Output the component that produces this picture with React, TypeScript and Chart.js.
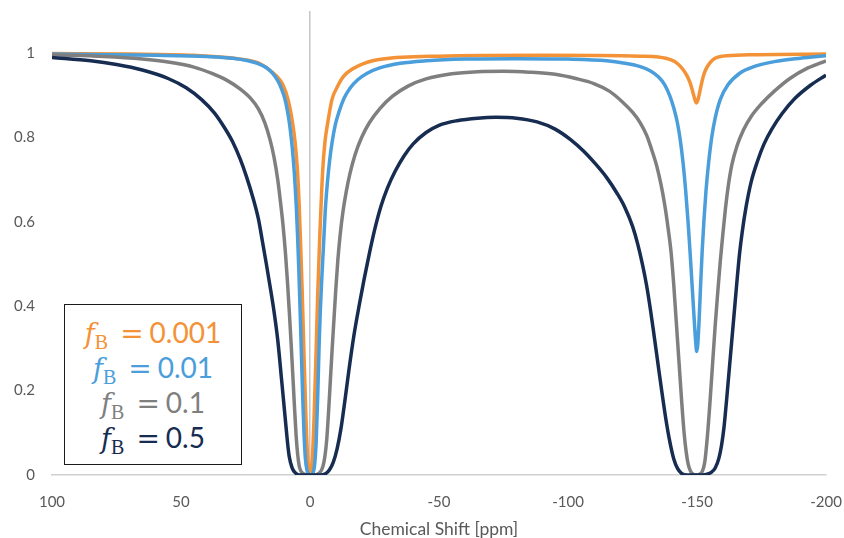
import React, { useEffect, useRef } from 'react';
import { Chart, registerables } from 'chart.js';

Chart.register(...registerables);

// ---- Data ----
const xTickValues = [100, 50, 0, -50, -100, -150, -200];
const yTickValues = [0, 0.2, 0.4, 0.6, 0.8, 1];

const seriesNames = ['0.001', '0.01', '0.1', '0.5'];
const seriesColors = ['#F39237', '#4A9EDB', '#7F7F7F', '#172C51'];

const orangeX = [100, 70, 45, 28, 20, 16.5, 13, 10.5, 8.5, 6.8, 5.8, 4.9, 4.2, 3.6, 3.0, 2.3, 1.6, 1.0, 0.5, 0, -0.5, -1, -1.6, -2.3, -3, -3.7, -4.9, -5.8, -6.9, -8.5, -10.4, -13, -16.6, -21, -28.2, -50, -90, -128, -135, -140, -142.5, -144.5, -146, -147.3, -148.3, -149.2, -149.8, -150.4, -151.3, -152.3, -153.3, -155, -157, -160, -170, -200];
const orangeY = [0.999, 0.998, 0.995, 0.987, 0.977, 0.964, 0.946, 0.925, 0.89, 0.837, 0.79, 0.725, 0.64, 0.54, 0.43, 0.28, 0.14, 0.05, 0.012, 0, 0.012, 0.05, 0.14, 0.28, 0.43, 0.55, 0.72, 0.79, 0.836, 0.89, 0.918, 0.945, 0.963, 0.976, 0.986, 0.993, 0.995, 0.993, 0.991, 0.984, 0.975, 0.962, 0.948, 0.93, 0.91, 0.89, 0.882, 0.89, 0.915, 0.942, 0.96, 0.977, 0.988, 0.993, 0.996, 0.998];

const blueX = [100, 60, 40, 30, 24, 20, 17, 14.5, 12.5, 11, 9.8, 8.8, 8, 7.2, 6.5, 5.9, 5.3, 4.8, 4.3, 3.8, 3.3, 2.8, 2.3, 1.8, 1.2, 0.5, -0.5, -1.2, -1.8, -2.4, -3, -3.5, -4, -4.6, -5.2, -5.9, -6.7, -7.6, -8.6, -9.8, -11.3, -13.2, -15.5, -18.5, -22, -27, -35, -45, -60, -80, -100, -115, -122, -128, -132, -135, -137.5, -139.5, -141, -142.3, -143.5, -144.6, -145.6, -146.6, -147.5, -148.3, -149, -149.5, -149.9, -150.3, -150.8, -151.4, -152, -152.7, -153.5, -154.5, -155.7, -157, -159, -162, -166.7, -172, -180, -190, -200];
const blueY = [0.998, 0.995, 0.992, 0.988, 0.982, 0.975, 0.966, 0.952, 0.935, 0.915, 0.893, 0.865, 0.835, 0.795, 0.75, 0.7, 0.635, 0.565, 0.48, 0.385, 0.28, 0.18, 0.095, 0.04, 0.012, 0.002, 0, 0.005, 0.025, 0.08, 0.19, 0.3, 0.39, 0.47, 0.54, 0.625, 0.69, 0.745, 0.79, 0.83, 0.862, 0.893, 0.917, 0.937, 0.952, 0.965, 0.976, 0.982, 0.986, 0.987, 0.986, 0.982, 0.976, 0.968, 0.958, 0.944, 0.925, 0.898, 0.87, 0.838, 0.795, 0.74, 0.675, 0.595, 0.51, 0.43, 0.36, 0.315, 0.293, 0.31, 0.365, 0.45, 0.53, 0.605, 0.675, 0.74, 0.8, 0.845, 0.89, 0.925, 0.953, 0.968, 0.98, 0.988, 0.994];

const grayX = [100, 80, 65, 55, 45, 38, 32, 27, 23, 20, 17.5, 15.5, 14, 12.5, 11.5, 10.5, 9.5, 8.7, 8, 7.3, 6.6, 6, 5.4, 4.8, 4.2, 3.5, 2.5, 1, -1, -2.5, -4, -5, -5.8, -6.5, -7.2, -7.9, -8.6, -9.3, -10, -10.8, -11.7, -12.8, -14, -15.5, -17.5, -20, -23, -27, -32, -38, -45, -55, -65, -75, -85, -95, -103, -110, -116, -121, -125, -128, -130.5, -132.5, -134.5, -136, -137.5, -138.8, -140, -141, -142, -143, -144, -145, -145.8, -146.6, -147.5, -148.5, -149.7, -151, -152, -153, -154, -155, -156, -157, -158, -159, -160, -161, -162, -163.5, -165.5, -168, -171, -175, -180, -186, -193, -200];
const grayY = [0.996, 0.992, 0.986, 0.979, 0.967, 0.952, 0.935, 0.915, 0.893, 0.868, 0.835, 0.795, 0.755, 0.7, 0.65, 0.595, 0.525, 0.455, 0.385, 0.31, 0.23, 0.16, 0.095, 0.05, 0.022, 0.009, 0.003, 0, 0, 0.001, 0.007, 0.02, 0.045, 0.085, 0.15, 0.225, 0.3, 0.37, 0.44, 0.51, 0.57, 0.625, 0.67, 0.715, 0.76, 0.8, 0.835, 0.868, 0.898, 0.922, 0.939, 0.951, 0.956, 0.957, 0.955, 0.95, 0.94, 0.928, 0.91, 0.885, 0.86, 0.835, 0.805, 0.77, 0.73, 0.69, 0.64, 0.585, 0.525, 0.45, 0.36, 0.27, 0.18, 0.1, 0.055, 0.025, 0.009, 0.002, 0, 0.002, 0.008, 0.03, 0.09, 0.17, 0.26, 0.35, 0.43, 0.505, 0.57, 0.63, 0.68, 0.735, 0.78, 0.818, 0.85, 0.88, 0.91, 0.94, 0.965, 0.982];

const navyX = [100, 85, 75, 65, 55, 48, 42, 37, 33, 30, 27, 24.5, 22, 20, 18.5, 17, 15.5, 14, 12.5, 11, 10, 9, 8.5, 8, 7, 6, 5, 4, 2, -1, -4, -6, -7.5, -9, -10.5, -12, -13.5, -15, -17, -19, -21, -23, -25, -27.5, -30, -33, -36.5, -40, -45, -50, -57, -65, -72, -80, -88, -95, -101, -106, -111, -115, -119, -122, -125, -127, -129, -130.5, -132, -133.5, -135, -136.5, -138, -139.5, -141, -142.5, -144, -146, -152, -154, -155.5, -157, -158.5, -159.5, -160.5, -161.5, -162.5, -163.5, -164.5, -165.5, -166.5, -167.5, -169, -171, -173.5, -176, -179, -183, -188, -194, -200];
const navyY = [0.99, 0.982, 0.973, 0.96, 0.94, 0.918, 0.89, 0.858, 0.822, 0.79, 0.748, 0.705, 0.655, 0.607, 0.556, 0.503, 0.448, 0.39, 0.32, 0.225, 0.16, 0.095, 0.065, 0.042, 0.018, 0.007, 0.002, 0, 0, 0, 0, 0.003, 0.012, 0.03, 0.062, 0.11, 0.175, 0.245, 0.33, 0.4, 0.465, 0.525, 0.58, 0.637, 0.68, 0.72, 0.757, 0.785, 0.812, 0.829, 0.84, 0.846, 0.848, 0.846, 0.837, 0.82, 0.795, 0.768, 0.735, 0.705, 0.668, 0.635, 0.59, 0.548, 0.495, 0.448, 0.39, 0.325, 0.258, 0.192, 0.13, 0.078, 0.038, 0.015, 0.004, 0, 0, 0.002, 0.006, 0.016, 0.04, 0.07, 0.115, 0.18, 0.25, 0.32, 0.39, 0.46, 0.525, 0.575, 0.635, 0.695, 0.745, 0.785, 0.82, 0.857, 0.893, 0.924, 0.948];

const seriesX = [orangeX, blueX, grayX, navyX];
const seriesY = [orangeY, blueY, grayY, navyY];

const toPoints = (xs: number[], ys: number[]) => xs.map((x, i) => ({ x, y: ys[i] }));

const TICK_FONT = { family: 'Lato', size: 15 };

const zeroPadding = (s: any) => {
  s.paddingLeft = 0;
  s.paddingRight = 0;
  s.paddingTop = 0;
  s.paddingBottom = 0;
};

export default function App() {
  const canvasRef = useRef<HTMLCanvasElement | null>(null);

  useEffect(() => {
    const canvas = canvasRef.current;
    if (!canvas) return;
    const datasets = seriesNames.map((name, i) => ({
      label: 'fB = ' + name,
      data: toPoints(seriesX[i], seriesY[i]),
      borderColor: seriesColors[i],
      backgroundColor: seriesColors[i],
      borderWidth: 3.5,
      pointRadius: 0,
      fill: false,
      cubicInterpolationMode: 'monotone' as const,
      order: seriesNames.length - 1 - i,
    }));

    const chart = new Chart(canvas, {
      type: 'line',
      data: { datasets },
      options: {
        animation: false,
        responsive: false,
        layout: { padding: { top: 11, right: 18, left: 0, bottom: 0 } },
        plugins: { legend: { display: false }, tooltip: { enabled: false } },
        scales: {
          x: {
            type: 'linear',
            reverse: true,
            min: -200,
            max: 100,
            afterBuildTicks: (s: any) => {
              s.ticks = xTickValues.map((v) => ({ value: v }));
            },
            ticks: {
              color: '#595959',
              font: TICK_FONT,
              padding: 18,
              maxRotation: 0,
              autoSkip: false,
              callback: (v: any) => String(v),
            },
            grid: {
              drawTicks: false,
              color: (ctx: any) => (ctx.tick && ctx.tick.value === 0 ? '#C6C6C6' : 'rgba(0,0,0,0)'),
              lineWidth: 1.5,
            },
            border: { display: true, color: '#D0D0D0', width: 1.5 },
            title: {
              display: true,
              text: 'Chemical Shift [ppm]',
              color: '#595959',
              font: { family: 'Lato', size: 17.5 },
              padding: { top: 0, bottom: -1.5 },
            },
            afterFit: (s: any) => {
              s.height = 63;
              zeroPadding(s);
            },
          },
          y: {
            min: 0,
            max: 1.1,
            afterBuildTicks: (s: any) => {
              s.ticks = yTickValues.map((v) => ({ value: v }));
            },
            ticks: {
              color: '#595959',
              font: TICK_FONT,
              padding: 17,
              callback: (v: any) => String(Math.round(Number(v) * 10) / 10),
            },
            grid: { display: false, drawTicks: false },
            border: { display: false },
            afterFit: (s: any) => {
              s.width = 52;
              zeroPadding(s);
            },
          },
        },
      },
    });
    return () => chart.destroy();
  }, []);

  return (
    <div style={{ position: 'fixed', left: 0, top: 0, width: 844, height: 538, background: '#fff' }}>
      <canvas ref={canvasRef} width={844} height={538} style={{ display: 'block', width: 844, height: 538 }} />
      <div
        style={{
          position: 'absolute',
          left: 64,
          top: 304,
          width: 178,
          height: 161,
          boxSizing: 'border-box',
          border: '1.6px solid #1a1a1a',
          background: '#fff',
          display: 'flex',
          flexDirection: 'column',
          justifyContent: 'center',
          alignItems: 'center',
        }}
      >
        {seriesNames.map((name, i) => (
          <div
            key={name}
            style={{
              color: seriesColors[i],
              fontFamily: 'Lato',
              fontSize: 28,
              lineHeight: '35px',
              height: 35,
              whiteSpace: 'nowrap',
            }}
          >
            <span style={{ fontFamily: '"DejaVu Serif"', fontStyle: 'italic', fontSize: 27 }}>f</span>
            <span
              style={{
                fontFamily: '"Liberation Serif"',
                fontSize: 20,
                verticalAlign: '-0.3em',
                lineHeight: 1,
              }}
            >
              B
            </span>
            <span style={{ fontFamily: '"DejaVu Sans"', margin: '0 6px 0 12px' }}>=</span>
            <span>{name}</span>
          </div>
        ))}
      </div>
    </div>
  );
}
